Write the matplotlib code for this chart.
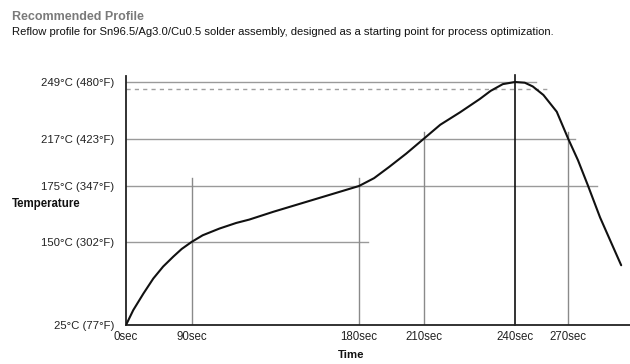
import matplotlib
matplotlib.use("Agg")
import matplotlib.pyplot as plt
import numpy as np

plt.rcParams['font.family'] = ['Liberation Sans', 'DejaVu Sans']

# ---- data -------------------------------------------------------------
time_ticks = [0, 90, 180, 210, 240, 270]
time_labels = ["0sec", "90sec", "180sec", "210sec", "240sec", "270sec"]
temp_ticks = [25, 150, 175, 217, 249]
temp_labels = ["25°C (77°F)", "150°C (302°F)", "175°C (347°F)",
               "217°C (423°F)", "249°C (480°F)"]
dashed_temp = 245

# reflow curve (sec, °C)
curve_t = [0, 10, 24, 37.5, 51, 65, 76.5, 90, 96, 105, 114, 121, 134, 152, 166,
           180, 187, 194, 202, 210, 215.5, 222, 228.5, 232, 236, 240, 245.5, 250,
           256, 263.5, 270, 275.5, 281, 288, 294.5, 300]
curve_c = [25, 47.5, 72.5, 95, 113, 128, 139.5, 150, 153, 156, 158.5, 160, 163.5,
           168, 171.5, 175, 182, 192, 204, 217, 225, 232, 239.5, 244, 247.8, 249,
           248.6, 246.5, 241.7, 232.3, 217, 198, 176, 161, 148, 115]

# how far the reference lines run (sec / °C)
hline_end = {249: 252, 217: 274, 175: 286, 150: 184}
dashed_end = 258.5
vline_top = {90: 182, 180: 182, 210: 221, 270: 221}

# ---- schematic (non-linear) axes ---------------------------------------
x_sec = [0, 90, 180, 210, 240, 270, 305]
x_pos = [0, 65.5, 233, 297.5, 389, 442.3, 504]
y_deg = [25, 150, 175, 217, 249, 253]
y_pos = [0, 83, 139, 186, 243, 250]


def fwd_x(v):
    return np.interp(v, x_sec, x_pos)


def inv_x(v):
    return np.interp(v, x_pos, x_sec)


def fwd_y(v):
    return np.interp(v, y_deg, y_pos)


def inv_y(v):
    return np.interp(v, y_pos, y_deg)


fig = plt.figure(figsize=(6.3, 3.64), dpi=100)
ax = fig.add_axes([0.2, 0.1071, 0.8, 0.684])
ax.set_xscale('function', functions=(fwd_x, inv_x))
ax.set_yscale('function', functions=(fwd_y, inv_y))
ax.set_xlim(0, 305)
ax.set_ylim(25, 252.4)

grid_col = '#9a9a9a'
for temp, xend in hline_end.items():
    ax.plot([0, xend], [temp, temp], color=grid_col, lw=1.0, zorder=1)
ax.plot([0, dashed_end], [dashed_temp, dashed_temp], color='#a0a0a0', lw=1.0,
        ls=(0, (3, 3)), zorder=1)
for t, ytop in vline_top.items():
    ax.plot([t, t], [25, ytop], color='#8a8a8a', lw=1.0, zorder=1)
ax.plot([240, 240], [25, 253], color='#111111', lw=1.2, zorder=2, clip_on=False)

ax.plot(curve_t, curve_c, color='#111111', lw=1.5, zorder=3,
        solid_capstyle='round', solid_joinstyle='round')

for side in ['top', 'right']:
    ax.spines[side].set_visible(False)
for side in ['left', 'bottom']:
    ax.spines[side].set_color('#222222')
    ax.spines[side].set_linewidth(1.3)

ax.set_xticks(time_ticks)
ax.set_xticklabels(time_labels)
ax.set_yticks(temp_ticks)
ax.set_yticklabels(temp_labels)
ax.minorticks_off()
ax.tick_params(axis='x', length=0, pad=4.5, labelsize=8.3, colors='#222222')
ax.tick_params(axis='y', length=0, pad=8.5, labelsize=8.2, colors='#222222')

fig.text(0.019, 0.953, "Recommended Profile", fontsize=9.0, fontweight='bold',
         color='#7a7a7a', va='center', ha='left')
fig.text(0.019, 0.912, "Reflow profile for Sn96.5/Ag3.0/Cu0.5 solder assembly, "
         "designed as a starting point for process optimization.",
         fontsize=8.15, color='#111111', va='center', ha='left')
fig.text(0.019, 0.44, "Temperature", fontsize=8.3, fontweight='bold',
         color='#111111', va='center', ha='left')
fig.text(0.557, 0.025, "Time", fontsize=8.2, fontweight='bold',
         color='#111111', va='center', ha='center')

fig.savefig("out.png", dpi=100)
